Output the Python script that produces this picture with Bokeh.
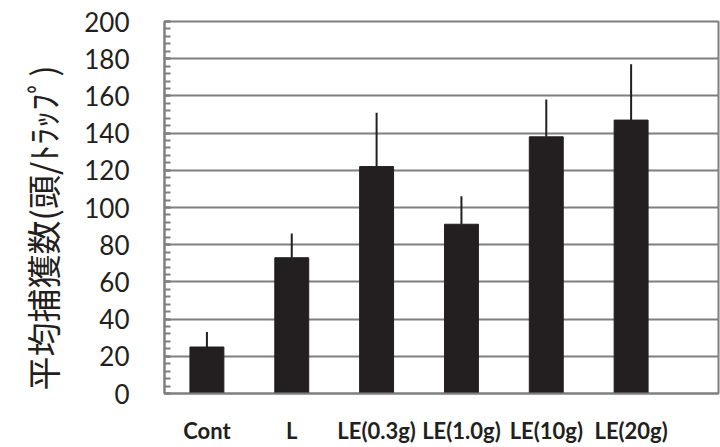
from bokeh.plotting import figure
from bokeh.models import Range1d, SingleIntervalTicker, FixedTicker, ColumnDataSource, Title
from bokeh.embed import file_html
from bokeh.resources import INLINE

categories = ["Cont", "L", "LE(0.3g)", "LE(1.0g)", "LE(10g)", "LE(20g)"]
means = [25, 73, 122, 91, 138, 147]
err_tops = [33, 86, 151, 106, 158, 177]
y_label = "平均捕獲数(頭/ﾄﾗｯﾌﾟ)"

xs = list(range(len(categories)))
src = ColumnDataSource(dict(x=xs, top=means, etop=err_tops))

p = figure(width=720, height=447, output_backend="svg", toolbar_location=None,
           x_range=Range1d(-0.5, 6.03), y_range=Range1d(0, 200),
           min_border_left=163, min_border_right=2, min_border_top=21, min_border_bottom=54)

p.vbar(x="x", top="top", width=0.4, bottom=0, source=src,
       fill_color="#231f20", line_color="#231f20", line_width=1)
p.segment(x0="x", y0="top", x1="x", y1="etop", source=src,
          line_color="#231f20", line_width=2)

p.outline_line_color = "#7f7f7f"
p.outline_line_width = 2
p.xgrid.grid_line_color = None
p.ygrid.grid_line_color = "#7f7f7f"
p.ygrid.grid_line_width = 2

p.yaxis.ticker = SingleIntervalTicker(interval=20, num_minor_ticks=5)
p.yaxis.axis_line_color = "#7f7f7f"
p.yaxis.axis_line_width = 2
p.yaxis.major_tick_in = 6
p.yaxis.major_tick_out = 0
p.yaxis.minor_tick_in = 6
p.yaxis.minor_tick_out = 0
p.yaxis.major_tick_line_color = "#7f7f7f"
p.yaxis.minor_tick_line_color = "#7f7f7f"
p.yaxis.major_tick_line_width = 2
p.yaxis.minor_tick_line_width = 2
p.yaxis.major_label_text_font = "Lato"
p.yaxis.major_label_text_font_size = "26px"
p.yaxis.major_label_text_color = "#231f20"
p.yaxis.major_label_standoff = 35

ylab = Title(text=y_label, align="left", offset=3, standoff=30,
             text_font="Noto Sans CJK JP", text_font_size="34px",
             text_font_style="normal", text_color="#231f20")
p.add_layout(ylab, "left")

p.xaxis.ticker = FixedTicker(ticks=xs)
p.xaxis.major_label_overrides = {i: c for i, c in zip(xs, categories)}
p.xaxis.axis_line_color = "#7f7f7f"
p.xaxis.axis_line_width = 2
p.xaxis.major_tick_in = 0
p.xaxis.major_tick_out = 0
p.xaxis.minor_tick_line_color = None
p.xaxis.major_label_text_font = "Lato"
p.xaxis.major_label_text_font_style = "bold"
p.xaxis.major_label_text_font_size = "22px"
p.xaxis.major_label_text_color = "#231f20"
p.xaxis.major_label_standoff = 23

open("out.html", "w").write(file_html(p, INLINE))
